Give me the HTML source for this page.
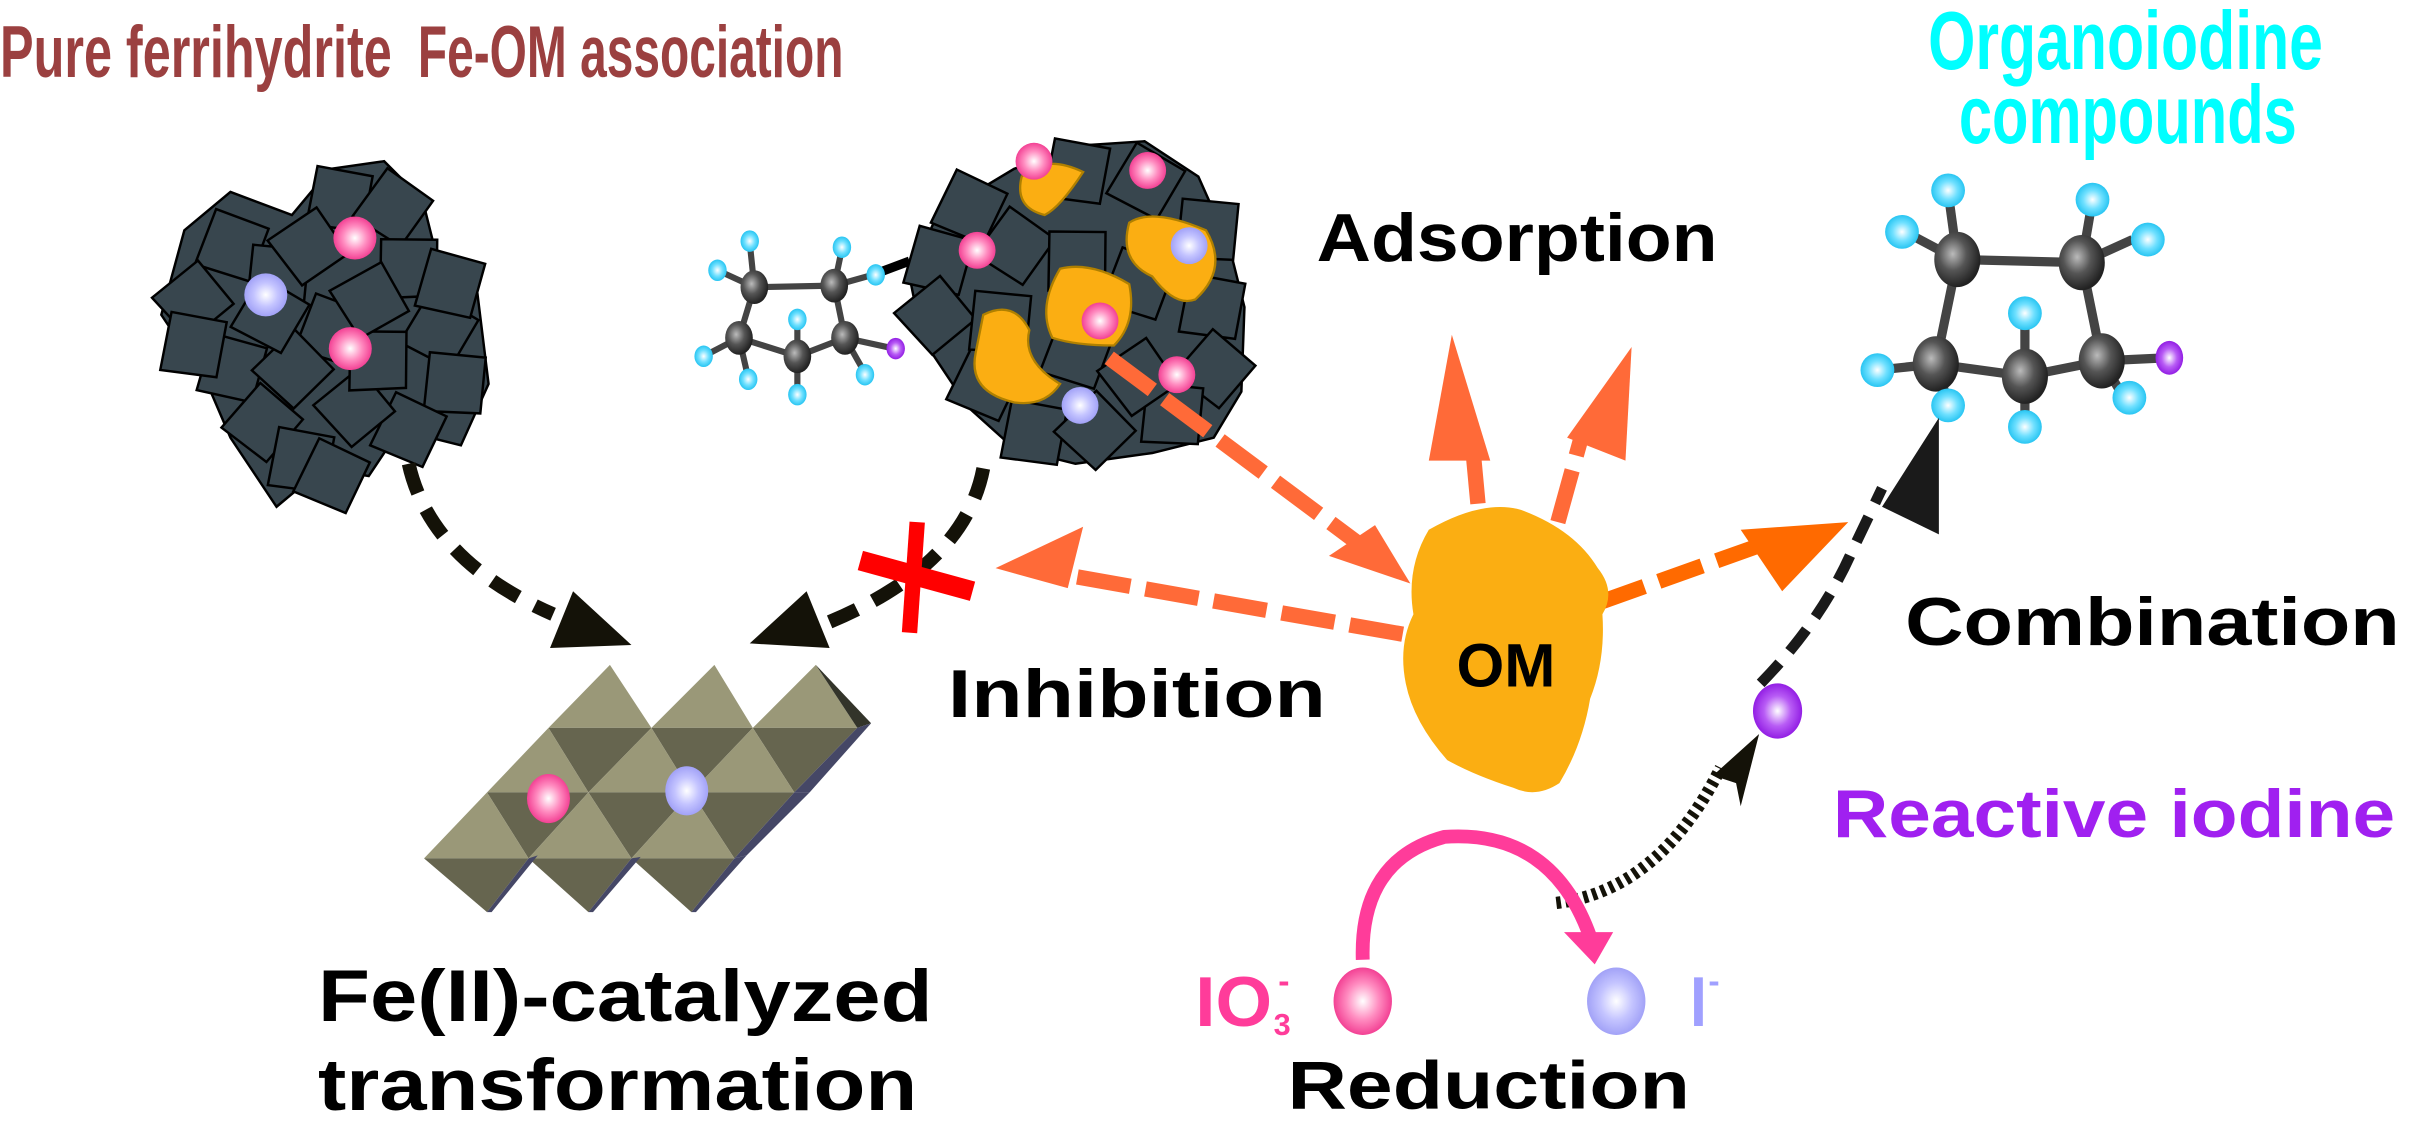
<!DOCTYPE html>
<html><head><meta charset="utf-8"><style>
html,body{margin:0;padding:0;background:#fff;}
svg{display:block;}
text{font-family:"Liberation Sans",Arial,sans-serif;font-weight:bold;}
</style></head><body>
<svg width="2409" height="1121" viewBox="0 0 1568 730" preserveAspectRatio="none" xmlns="http://www.w3.org/2000/svg">
<defs>
<radialGradient id="pk" cx="50%" cy="50%" r="55%"><stop offset="0" stop-color="#fff"/><stop offset="0.5" stop-color="#ff8cc0"/><stop offset="1" stop-color="#f0308a"/></radialGradient>
<radialGradient id="lv" cx="50%" cy="50%" r="55%"><stop offset="0" stop-color="#fff"/><stop offset="0.5" stop-color="#c4c4ff"/><stop offset="1" stop-color="#9a9af5"/></radialGradient>
<radialGradient id="pu" cx="50%" cy="50%" r="55%"><stop offset="0" stop-color="#fff"/><stop offset="0.5" stop-color="#b85cf5"/><stop offset="1" stop-color="#8a10e0"/></radialGradient>
<radialGradient id="cy" cx="50%" cy="50%" r="55%"><stop offset="0" stop-color="#fff"/><stop offset="0.5" stop-color="#6fe0ff"/><stop offset="1" stop-color="#18bfef"/></radialGradient>
<radialGradient id="gr" cx="40%" cy="40%" r="60%"><stop offset="0" stop-color="#bbb"/><stop offset="0.5" stop-color="#555"/><stop offset="1" stop-color="#222"/></radialGradient>
<g id="sq"><polygon points="-20,-16 16,-22 22,14 -14,22" fill="#38464e" stroke="#000" stroke-width="1.6" stroke-linejoin="miter"/></g>
</defs>

<!-- titles -->
<text x="0" y="50" font-size="48" fill="#9b4040" textLength="255" lengthAdjust="spacingAndGlyphs">Pure ferrihydrite</text>
<text x="272" y="50" font-size="48" fill="#9b4040" textLength="277" lengthAdjust="spacingAndGlyphs">Fe-OM association</text>
<text x="1255" y="45" font-size="54" fill="#00ffff" textLength="257" lengthAdjust="spacingAndGlyphs">Organoiodine</text>
<text x="1275" y="93" font-size="54" fill="#00ffff" textLength="220" lengthAdjust="spacingAndGlyphs">compounds</text>

<!-- pure ferrihydrite cluster -->
<g>
<path d="M150 125 L190 140 L215 110 L250 105 L275 130 L285 170 L310 185 L318 250 L300 290 L260 280 L240 310 L210 305 L180 330 L150 285 L135 250 L105 205 L120 150Z" fill="#38464e" stroke="#000" stroke-width="1.6"/>
<use href="#sq" transform="translate(150,160) rotate(30)"/>
<use href="#sq" transform="translate(125,195) rotate(60)"/>
<use href="#sq" transform="translate(220,130) rotate(20)"/>
<use href="#sq" transform="translate(255,135) rotate(45)"/>
<use href="#sq" transform="translate(265,175) rotate(10)"/>
<use href="#sq" transform="translate(180,180) rotate(15)"/>
<use href="#sq" transform="translate(285,215) rotate(40)"/>
<use href="#sq" transform="translate(295,250) rotate(15)"/>
<use href="#sq" transform="translate(150,240) rotate(25)"/>
<use href="#sq" transform="translate(170,275) rotate(50)"/>
<use href="#sq" transform="translate(195,300) rotate(20)"/>
<use href="#sq" transform="translate(265,280) rotate(35)"/>
<use href="#sq" transform="translate(230,265) rotate(60)"/>
<use href="#sq" transform="translate(215,215) rotate(30)"/>
<use href="#sq" transform="translate(245,235) rotate(10)"/>
<use href="#sq" transform="translate(190,240) rotate(55)"/>
<use href="#sq" transform="translate(125,225) rotate(20)"/>
<use href="#sq" transform="translate(292,185) rotate(25)"/>
<use href="#sq" transform="translate(240,195) rotate(70)"/>
<use href="#sq" transform="translate(215,310) rotate(35)"/>
<use href="#sq" transform="translate(175,205) rotate(40)"/>
<use href="#sq" transform="translate(200,160) rotate(65)"/>
<ellipse cx="231" cy="155" rx="14" ry="14" fill="url(#pk)"/>
<ellipse cx="173" cy="192" rx="14" ry="14" fill="url(#lv)"/>
<ellipse cx="228" cy="227" rx="14" ry="14" fill="url(#pk)"/>
</g>

<!-- small molecule -->
<g stroke="#444" stroke-width="4" fill="none">
<line x1="491" y1="187" x2="543" y2="186"/><line x1="491" y1="187" x2="481" y2="220"/><line x1="543" y1="186" x2="550" y2="220"/>
<line x1="481" y1="220" x2="519" y2="232"/><line x1="550" y1="220" x2="519" y2="232"/>
<line x1="491" y1="187" x2="488" y2="158"/><line x1="491" y1="187" x2="467" y2="176"/>
<line x1="543" y1="186" x2="548" y2="162"/><line x1="543" y1="186" x2="568" y2="179"/>
<line x1="481" y1="220" x2="458" y2="232"/><line x1="481" y1="220" x2="487" y2="246"/>
<line x1="519" y1="232" x2="519" y2="208"/><line x1="519" y1="232" x2="519" y2="256"/>
<line x1="550" y1="220" x2="582" y2="227"/><line x1="550" y1="220" x2="563" y2="243"/>
<line x1="568" y1="179" x2="592" y2="170" stroke="#000" stroke-width="6"/>
</g>
<g>
<ellipse cx="491" cy="187" rx="9" ry="11" fill="url(#gr)"/><ellipse cx="543" cy="186" rx="9" ry="11" fill="url(#gr)"/>
<ellipse cx="481" cy="220" rx="9" ry="11" fill="url(#gr)"/><ellipse cx="550" cy="220" rx="9" ry="11" fill="url(#gr)"/>
<ellipse cx="519" cy="232" rx="9" ry="11" fill="url(#gr)"/>
<ellipse cx="488" cy="157" rx="6" ry="7" fill="url(#cy)"/><ellipse cx="467" cy="176" rx="6" ry="7" fill="url(#cy)"/>
<ellipse cx="548" cy="161" rx="6" ry="7" fill="url(#cy)"/><ellipse cx="570" cy="179" rx="6" ry="7" fill="url(#cy)"/>
<ellipse cx="458" cy="232" rx="6" ry="7" fill="url(#cy)"/><ellipse cx="487" cy="247" rx="6" ry="7" fill="url(#cy)"/>
<ellipse cx="519" cy="208" rx="6" ry="7" fill="url(#cy)"/><ellipse cx="519" cy="257" rx="6" ry="7" fill="url(#cy)"/>
<ellipse cx="563" cy="244" rx="6" ry="7" fill="url(#cy)"/><ellipse cx="583" cy="227" rx="6" ry="7" fill="url(#pu)"/>
</g>

<!-- Fe-OM cluster -->
<g>
<path d="M610 140 L660 110 L700 95 L745 92 L780 115 L800 160 L810 200 L808 255 L790 285 L750 295 L700 302 L660 292 L630 265 L600 220 L592 180Z" fill="#38464e" stroke="#000" stroke-width="1.6"/>
<use href="#sq" transform="translate(630,135) rotate(35)"/>
<use href="#sq" transform="translate(610,170) rotate(25)"/>
<use href="#sq" transform="translate(608,205) rotate(60)"/>
<use href="#sq" transform="translate(700,112) rotate(20)"/>
<use href="#sq" transform="translate(745,118) rotate(40)"/>
<use href="#sq" transform="translate(785,150) rotate(15)"/>
<use href="#sq" transform="translate(660,160) rotate(45)"/>
<use href="#sq" transform="translate(700,170) rotate(10)"/>
<use href="#sq" transform="translate(740,185) rotate(30)"/>
<use href="#sq" transform="translate(788,200) rotate(20)"/>
<use href="#sq" transform="translate(790,240) rotate(50)"/>
<use href="#sq" transform="translate(762,270) rotate(15)"/>
<use href="#sq" transform="translate(640,250) rotate(35)"/>
<use href="#sq" transform="translate(672,282) rotate(20)"/>
<use href="#sq" transform="translate(712,280) rotate(55)"/>
<use href="#sq" transform="translate(700,230) rotate(30)"/>
<use href="#sq" transform="translate(650,210) rotate(15)"/>
<use href="#sq" transform="translate(740,245) rotate(65)"/>
<path d="M665 115 Q680 100 705 112 Q690 135 680 140 Q660 135 665 115Z" fill="#fbae12" stroke="#b08000" stroke-width="1.5"/>
<path d="M735 145 Q750 135 785 150 Q800 175 778 195 Q765 200 750 180 Q728 170 735 145Z" fill="#fbae12" stroke="#b08000" stroke-width="1.5"/>
<path d="M640 205 Q660 195 670 215 Q665 235 690 250 Q680 265 660 262 Q630 255 635 230Z" fill="#fbae12" stroke="#b08000" stroke-width="1.5"/>
<path d="M690 175 Q710 170 735 185 Q740 210 725 225 Q700 225 685 220 Q675 200 690 175Z" fill="#fbae12" stroke="#b08000" stroke-width="1.5"/>
<ellipse cx="673" cy="105" rx="12" ry="12" fill="url(#pk)"/>
<ellipse cx="747" cy="111" rx="12" ry="12" fill="url(#pk)"/>
<ellipse cx="636" cy="163" rx="12" ry="12" fill="url(#pk)"/>
<ellipse cx="774" cy="160" rx="12" ry="12" fill="url(#lv)"/>
<ellipse cx="716" cy="209" rx="12" ry="12" fill="url(#pk)"/>
<ellipse cx="766" cy="244" rx="12" ry="12" fill="url(#pk)"/>
<ellipse cx="703" cy="264" rx="12" ry="12" fill="url(#lv)"/>
</g>

<!-- big molecule -->
<g stroke="#444" stroke-width="6" fill="none">
<line x1="1274" y1="169" x2="1355" y2="171"/><line x1="1274" y1="169" x2="1260" y2="237"/><line x1="1355" y1="171" x2="1368" y2="235"/>
<line x1="1260" y1="237" x2="1318" y2="245"/><line x1="1368" y1="235" x2="1318" y2="245"/>
<line x1="1274" y1="169" x2="1268" y2="125"/><line x1="1274" y1="169" x2="1240" y2="151"/>
<line x1="1355" y1="171" x2="1362" y2="130"/><line x1="1355" y1="171" x2="1388" y2="156"/>
<line x1="1260" y1="237" x2="1222" y2="241"/><line x1="1260" y1="237" x2="1268" y2="262"/>
<line x1="1318" y1="245" x2="1318" y2="210"/><line x1="1318" y1="245" x2="1318" y2="278"/>
<line x1="1368" y1="235" x2="1410" y2="233"/><line x1="1368" y1="235" x2="1382" y2="258"/>
</g>
<g>
<ellipse cx="1274" cy="169" rx="15" ry="18" fill="url(#gr)"/><ellipse cx="1355" cy="171" rx="15" ry="18" fill="url(#gr)"/>
<ellipse cx="1260" cy="237" rx="15" ry="18" fill="url(#gr)"/><ellipse cx="1368" cy="235" rx="15" ry="18" fill="url(#gr)"/>
<ellipse cx="1318" cy="245" rx="15" ry="18" fill="url(#gr)"/>
<ellipse cx="1268" cy="124" rx="11" ry="11" fill="url(#cy)"/><ellipse cx="1238" cy="151" rx="11" ry="11" fill="url(#cy)"/>
<ellipse cx="1362" cy="130" rx="11" ry="11" fill="url(#cy)"/><ellipse cx="1398" cy="156" rx="11" ry="11" fill="url(#cy)"/>
<ellipse cx="1222" cy="241" rx="11" ry="11" fill="url(#cy)"/><ellipse cx="1268" cy="264" rx="11" ry="11" fill="url(#cy)"/>
<ellipse cx="1318" cy="204" rx="11" ry="11" fill="url(#cy)"/><ellipse cx="1318" cy="278" rx="11" ry="11" fill="url(#cy)"/>
<ellipse cx="1386" cy="259" rx="11" ry="11" fill="url(#cy)"/><ellipse cx="1412" cy="233" rx="9" ry="11" fill="url(#pu)"/>
</g>

<!-- octahedral sheet -->
<g stroke="none">
<polygon points="397,433 357,474 424,474" fill="#9a9878"/><polygon points="465,433 424,474 490,474" fill="#9a9878"/><polygon points="531,433 490,474 558,474" fill="#9a9878"/>
<polygon points="531,433 567,471 558,474" fill="#33342a"/>
<polygon points="357,474 424,474 383,516" fill="#66654f"/><polygon points="424,474 490,474 450,516" fill="#66654f"/><polygon points="490,474 558,474 517,516" fill="#66654f"/>
<polygon points="317,516 383,516 357,474" fill="#9a9878"/><polygon points="383,516 450,516 424,474" fill="#9a9878"/><polygon points="450,516 517,516 490,474" fill="#9a9878"/>
<polygon points="558,474 567,471 527,516 517,516" fill="#454766"/>
<polygon points="317,516 383,516 344,559" fill="#66654f"/><polygon points="383,516 450,516 411,559" fill="#66654f"/><polygon points="450,516 517,516 478,559" fill="#66654f"/>
<polygon points="276,559 344,559 317,516" fill="#9a9878"/><polygon points="344,559 411,559 383,516" fill="#9a9878"/><polygon points="411,559 478,559 450,516" fill="#9a9878"/>
<polygon points="517,516 527,516 486,557 478,559" fill="#454766"/>
<polygon points="276,559 344,559 317,594" fill="#66654f"/><polygon points="344,559 411,559 383,594" fill="#66654f"/><polygon points="411,559 478,559 450,594" fill="#66654f"/>
<polygon points="344,559 350,557 320,594 317,594" fill="#454766"/><polygon points="411,559 417,558 386,594 383,594" fill="#454766"/><polygon points="478,559 486,557 453,594 450,594" fill="#454766"/>
</g>
<ellipse cx="357" cy="520" rx="14" ry="16" fill="url(#pk)"/>
<ellipse cx="447" cy="515" rx="14" ry="16" fill="url(#lv)"/>

<!-- black dashed arrows to sheet -->
<path d="M266 302 Q280 365 360 400" stroke="#141208" stroke-width="9" fill="none" stroke-dasharray="20 12"/>
<polygon points="373,385 411,420 358,422" fill="#141208"/>
<path d="M640 305 Q628 368 540 405" stroke="#141208" stroke-width="9" fill="none" stroke-dasharray="20 12"/>
<polygon points="525,385 488,419 540,422" fill="#141208"/>
<!-- red X -->
<line x1="597" y1="340" x2="592" y2="412" stroke="#ff0000" stroke-width="10"/>
<line x1="560" y1="365" x2="633" y2="385" stroke="#ff0000" stroke-width="13"/>

<!-- orange arrows -->
<g stroke="#ff6a38" stroke-width="10" fill="none" stroke-dasharray="35 10">
<path d="M913 413 L680 372"/>
<path d="M722 233 L895 362"/>
<path d="M962 328 L958 285"/>
<path d="M1014 340 L1030 282"/>
</g>
<polygon points="648,370 705,343 695,383" fill="#ff6a38"/>
<polygon points="918,380 895,342 865,362" fill="#ff6a38"/>
<polygon points="945,218 930,300 970,300" fill="#ff6a38"/>
<polygon points="1062,226 1020,285 1058,300" fill="#ff6a38"/>
<path d="M1042 392 L1160 350" stroke="#ff6a00" stroke-width="10" stroke-dasharray="30 10" fill="none"/>
<polygon points="1203,340 1133,345 1160,385" fill="#ff6a00"/>

<!-- OM blob -->
<path d="M930 345 Q965 325 990 332 Q1025 345 1040 370 Q1052 385 1043 400 Q1045 430 1035 455 Q1030 485 1015 510 Q1000 520 985 513 Q960 505 942 495 Q920 470 915 445 Q910 420 920 400 Q915 370 930 345Z" fill="#fbae12"/>
<text x="948" y="447" font-size="40" fill="#000">OM</text>

<!-- combination arrow -->
<path d="M1146 445 Q1185 405 1205 360 L1225 318" stroke="#1a1a1a" stroke-width="7" fill="none" stroke-dasharray="18 10"/>
<polygon points="1262,272 1225,330 1262,348" fill="#1a1a1a"/>
<ellipse cx="1157" cy="463" rx="16" ry="18" fill="url(#pu)"/>

<!-- reduction -->
<path d="M1013 588 Q1080 580 1120 500" stroke="#141208" stroke-width="8" fill="none" stroke-dasharray="3 3"/>
<polygon points="1145,478 1115,505 1130,510 1133,525" fill="#141208"/>
<path d="M887 625 Q885 560 940 545 Q1010 540 1035 610" stroke="#ff3c9a" stroke-width="9" fill="none"/>
<polygon points="1018,607 1050,607 1038,628" fill="#ff3c9a"/>
<ellipse cx="887" cy="652" rx="19" ry="22" fill="url(#pk)"/>
<ellipse cx="1052" cy="652" rx="19" ry="22" fill="url(#lv)"/>
<text x="778" y="668" font-size="46" fill="#ff3c9a" textLength="50" lengthAdjust="spacingAndGlyphs">IO</text>
<text x="829" y="674" font-size="20" fill="#ff3c9a">3</text>
<text x="832" y="646" font-size="22" fill="#ff3c9a">-</text>
<text x="1100" y="668" font-size="46" fill="#a0a0ff" textLength="11" lengthAdjust="spacingAndGlyphs">I</text>
<text x="1112" y="646" font-size="22" fill="#a0a0ff">-</text>

<!-- labels -->
<text x="857" y="170" font-size="44" fill="#000" textLength="261" lengthAdjust="spacingAndGlyphs">Adsorption</text>
<text x="617" y="467" font-size="44" fill="#000" textLength="246" lengthAdjust="spacingAndGlyphs">Inhibition</text>
<text x="1240" y="420" font-size="44" fill="#000" textLength="322" lengthAdjust="spacingAndGlyphs">Combination</text>
<text x="1193" y="545" font-size="44" fill="#a020f0" textLength="366" lengthAdjust="spacingAndGlyphs">Reactive iodine</text>
<text x="207" y="665" font-size="48" fill="#000" textLength="400" lengthAdjust="spacingAndGlyphs">Fe(II)-catalyzed</text>
<text x="207" y="723" font-size="48" fill="#000" textLength="390" lengthAdjust="spacingAndGlyphs">transformation</text>
<text x="838" y="722" font-size="44" fill="#000" textLength="262" lengthAdjust="spacingAndGlyphs">Reduction</text>
</svg>
</body></html>
